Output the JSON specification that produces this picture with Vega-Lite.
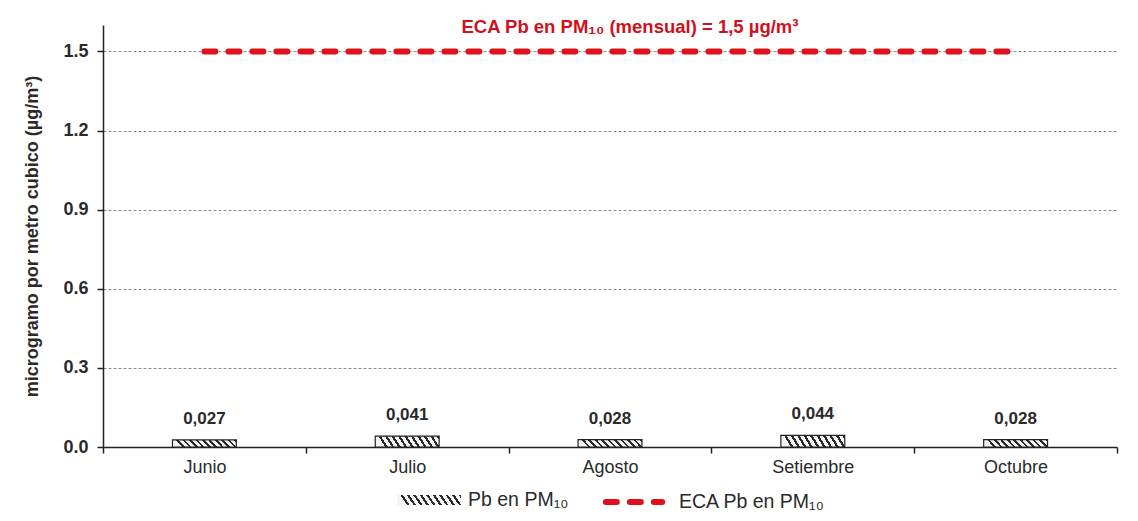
{
  "$schema": "https://vega.github.io/schema/vega-lite/v6.json",
  "width": 1014,
  "height": 422,
  "padding": {"left": 23, "top": 18, "right": 10, "bottom": 0},
  "background": "#ffffff",
  "config": {
    "font": "Liberation Sans",
    "view": {"stroke": null},
    "legend": {"layout": {"bottom": {"anchor": "middle", "direction": "horizontal", "margin": 30}}},
    "locale": {"number": {"decimal": ",", "thousands": ".", "grouping": [3], "currency": ["", ""]}}
  },
  "data": {
    "values": [
      {"mes": "Junio", "pb": 0.027, "eca": 1.5},
      {"mes": "Julio", "pb": 0.041, "eca": 1.5},
      {"mes": "Agosto", "pb": 0.028, "eca": 1.5},
      {"mes": "Setiembre", "pb": 0.044, "eca": 1.5},
      {"mes": "Octubre", "pb": 0.028, "eca": 1.5}
    ]
  },
  "encoding": {
    "x": {
      "field": "mes", "type": "nominal", "sort": null,
      "scale": {"paddingInner": 0, "paddingOuter": 0},
      "axis": {
        "title": null, "labelAngle": 0, "tickBand": "extent",
        "domainColor": "#222", "domainWidth": 1.5, "tickColor": "#222", "tickWidth": 1.5, "tickSize": 6,
        "labelFontSize": 18, "labelColor": "#2a2a2a", "labelPadding": 5
      }
    }
  },
  "layer": [
    {
      "mark": {
        "type": "bar", "width": {"band": 0.315}, "stroke": "#222", "strokeWidth": 1.2,
        "fill": {
          "gradient": "linear", "x1": 0, "y1": 0.11, "x2": 1, "y2": 0,
          "stops": [
            {"offset": 0, "color": "#f4f4f4"}, {"offset": 0.06, "color": "#f4f4f4"}, {"offset": 0.06, "color": "#2a2a2a"}, {"offset": 0.1, "color": "#2a2a2a"},
            {"offset": 0.1, "color": "#f4f4f4"}, {"offset": 0.16, "color": "#f4f4f4"}, {"offset": 0.16, "color": "#2a2a2a"}, {"offset": 0.2, "color": "#2a2a2a"},
            {"offset": 0.2, "color": "#f4f4f4"}, {"offset": 0.26, "color": "#f4f4f4"}, {"offset": 0.26, "color": "#2a2a2a"}, {"offset": 0.3, "color": "#2a2a2a"},
            {"offset": 0.3, "color": "#f4f4f4"}, {"offset": 0.36, "color": "#f4f4f4"}, {"offset": 0.36, "color": "#2a2a2a"}, {"offset": 0.4, "color": "#2a2a2a"},
            {"offset": 0.4, "color": "#f4f4f4"}, {"offset": 0.46, "color": "#f4f4f4"}, {"offset": 0.46, "color": "#2a2a2a"}, {"offset": 0.5, "color": "#2a2a2a"},
            {"offset": 0.5, "color": "#f4f4f4"}, {"offset": 0.56, "color": "#f4f4f4"}, {"offset": 0.56, "color": "#2a2a2a"}, {"offset": 0.6, "color": "#2a2a2a"},
            {"offset": 0.6, "color": "#f4f4f4"}, {"offset": 0.66, "color": "#f4f4f4"}, {"offset": 0.66, "color": "#2a2a2a"}, {"offset": 0.7, "color": "#2a2a2a"},
            {"offset": 0.7, "color": "#f4f4f4"}, {"offset": 0.76, "color": "#f4f4f4"}, {"offset": 0.76, "color": "#2a2a2a"}, {"offset": 0.8, "color": "#2a2a2a"},
            {"offset": 0.8, "color": "#f4f4f4"}, {"offset": 0.86, "color": "#f4f4f4"}, {"offset": 0.86, "color": "#2a2a2a"}, {"offset": 0.9, "color": "#2a2a2a"},
            {"offset": 0.9, "color": "#f4f4f4"}, {"offset": 0.96, "color": "#f4f4f4"}, {"offset": 0.96, "color": "#2a2a2a"}, {"offset": 1, "color": "#2a2a2a"}
          ]
        }
      },
      "encoding": {
        "y": {
          "field": "pb", "type": "quantitative",
          "scale": {"domain": [0, 1.6], "nice": false},
          "axis": {
            "title": "microgramo por metro cubico (µg/m³)",
            "titleFontSize": 18, "titleFontWeight": "bold", "titleColor": "#2a2a2a", "titlePadding": 21,
            "values": [0, 0.3, 0.6, 0.9, 1.2, 1.5],
            "labelExpr": "replace(format(datum.value, '.1f'), ',', '.')",
            "labelFontSize": 18, "labelFontWeight": "bold", "labelColor": "#2a2a2a", "labelPadding": 9,
            "domainColor": "#222", "domainWidth": 1.5, "tickColor": "#222", "tickWidth": 1.5, "tickSize": 6,
            "grid": true, "gridColor": "#8a8a9a", "gridWidth": 1, "gridDash": [3, 2]
          }
        },
        "opacity": {
          "datum": "Pb en PM₁₀", "type": "nominal",
          "scale": {"range": [1]},
          "legend": {
            "title": null, "orient": "bottom", "offset": -9,
            "symbolType": "M-1,-1M1,1M-1,-0.16H1V0.16H-1ZM-0.9,-0.16L-0.75,0.16M-0.7,-0.16L-0.55,0.16M-0.5,-0.16L-0.35,0.16M-0.3,-0.16L-0.15,0.16M-0.1,-0.16L0.05,0.16M0.1,-0.16L0.25,0.16M0.3,-0.16L0.45,0.16M0.5,-0.16L0.65,0.16M0.7,-0.16L0.85,0.16",
            "symbolSize": 4096,
            "symbolFillColor": "#f4f4f4", "symbolStrokeColor": "#222", "symbolStrokeWidth": 2,
            "labelFontSize": 19.5, "labelColor": "#2a2a2a", "labelOffset": 6
          }
        }
      }
    },
    {
      "mark": {"type": "text", "dy": -12, "baseline": "bottom", "fontSize": 17, "fontWeight": "bold", "color": "#2a2a2a"},
      "encoding": {
        "y": {"field": "pb", "type": "quantitative"},
        "text": {"field": "pb", "type": "quantitative", "format": ".3f"}
      }
    },
    {
      "mark": {"type": "line", "strokeWidth": 6, "strokeDash": [11, 13], "strokeCap": "round"},
      "encoding": {
        "y": {"field": "eca", "type": "quantitative"},
        "stroke": {
          "datum": "ECA Pb en PM₁₀", "type": "nominal",
          "scale": {"range": ["#e0101c"]},
          "legend": {
            "title": null, "orient": "bottom", "offset": -9,
            "symbolType": "M-1,-1M1,1M-0.88,0H0.88", "symbolSize": 4096, "symbolStrokeWidth": 6, "symbolDash": [11, 13],
            "labelFontSize": 19.5, "labelColor": "#2a2a2a", "labelOffset": 10,
            "encode": {"symbols": {"update": {"strokeCap": {"value": "round"}}}}
          }
        }
      }
    },
    {
      "data": {"values": [{"t": "ECA Pb en PM₁₀ (mensual) = 1,5 µg/m³"}]},
      "mark": {"type": "text", "dx": 20, "dy": -24, "fontSize": 18.5, "fontWeight": "bold", "color": "#d0101c"},
      "encoding": {
        "x": {"datum": "Agosto"},
        "y": {"datum": 1.5},
        "text": {"field": "t"}
      }
    }
  ]
}
